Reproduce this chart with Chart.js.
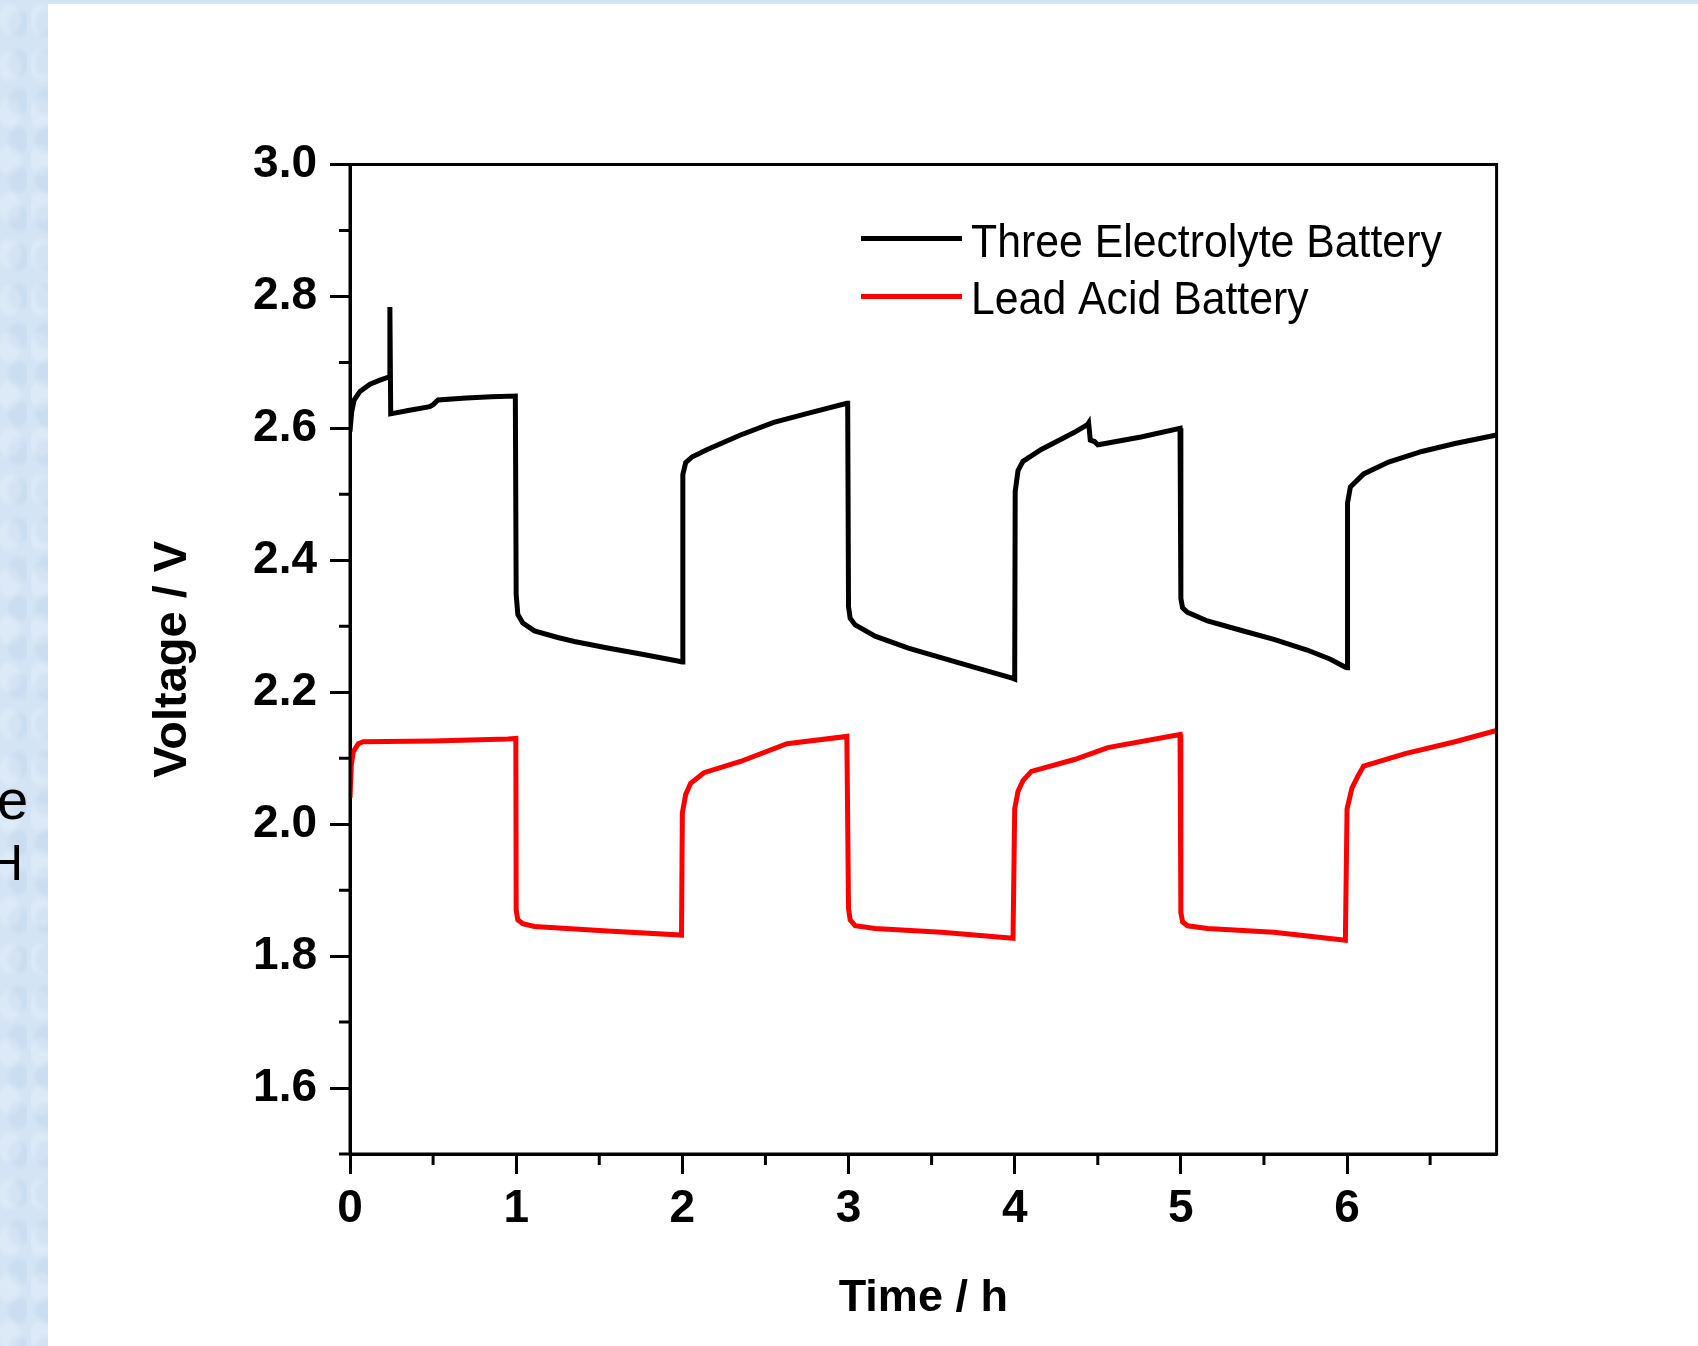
<!DOCTYPE html>
<html>
<head>
<meta charset="utf-8">
<title>Voltage vs Time</title>
<script src="https://cdn.jsdelivr.net/npm/chart.js@4.4.1/dist/chart.umd.min.js"></script>
<style>
  html, body { margin: 0; padding: 0; }
  body {
    width: 1698px; height: 1346px; position: relative; overflow: hidden;
    background: #fff; font-family: 'Liberation Sans', Arial, sans-serif;
  }
  #side {
    position: absolute; left: 0; top: 0; width: 48px; height: 1346px; overflow: hidden;
    background: #d4e4f4;
    background-image:
      radial-gradient(ellipse at 30% 40%, rgba(255,255,255,0.18) 0 9px, transparent 14px),
      radial-gradient(ellipse at 70% 60%, rgba(160,190,225,0.18) 0 8px, transparent 13px);
    background-size: 31px 47px, 27px 39px;
  }
  #topband { position: absolute; left: 0; top: 0; width: 1698px; height: 4px; background: #d4e4f4; }
  .cut { position: absolute; line-height: 1; color: #000; }
  #wrap { position: absolute; left: 48px; top: 4px; width: 1650px; height: 1342px; background: #fff; }
</style>
</head>
<body>
<div id="topband"></div>
<div id="side">
  <span class="cut" style="left:-3px; top:772px; font-size:56px;">e</span>
  <span class="cut" style="left:-13px; top:838px; font-size:50px;">H</span>
</div>
<div id="wrap"><canvas id="chart" width="1650" height="1342"></canvas></div>

<script>
//---------------------------------------------
// DATA
//---------------------------------------------
const seriesLabels = ["Three Electrolyte Battery", "Lead Acid Battery"];

const blackTime = [0.000, 0.010, 0.025, 0.06, 0.12, 0.18, 0.235, 0.240, 0.245, 0.35, 0.48, 0.50, 0.53, 0.70, 0.85, 0.995,
    1.000, 1.01, 1.04, 1.11, 1.25, 1.35, 1.55, 1.75, 1.98, 2.00,
    2.003, 2.02, 2.06, 2.15, 2.35, 2.55, 2.76, 2.99, 2.995,
    3.00, 3.01, 3.04, 3.16, 3.36, 3.66, 3.99, 4.00,
    4.003, 4.02, 4.05, 4.16, 4.36, 4.44, 4.445, 4.455, 4.48, 4.50, 4.52, 4.76, 4.995,
    5.00, 5.01, 5.04, 5.16, 5.36, 5.56, 5.76, 5.90, 5.99, 6.00,
    6.003, 6.02, 6.10, 6.25, 6.45, 6.65, 6.90];
const blackVolt = [2.595, 2.625, 2.643, 2.656, 2.667, 2.673, 2.678, 2.784, 2.622, 2.627, 2.633, 2.636, 2.643, 2.646, 2.648, 2.649,
    2.348, 2.318, 2.305, 2.293, 2.283, 2.277, 2.267, 2.258, 2.247, 2.246,
    2.530, 2.548, 2.557, 2.568, 2.590, 2.609, 2.623, 2.638, 2.638,
    2.330, 2.312, 2.302, 2.285, 2.267, 2.245, 2.221, 2.220,
    2.504, 2.536, 2.550, 2.568, 2.594, 2.606, 2.608, 2.582, 2.580, 2.575, 2.576, 2.587, 2.600,
    2.342, 2.328, 2.321, 2.308, 2.294, 2.280, 2.264, 2.250, 2.238, 2.237,
    2.487, 2.511, 2.531, 2.549, 2.565, 2.577, 2.590];

const redTime = [0.000, 0.008, 0.02, 0.05, 0.08, 0.50, 0.95, 0.998,
    1.000, 1.01, 1.04, 1.11, 1.55, 1.995,
    2.000, 2.02, 2.05, 2.13, 2.35, 2.63, 2.99,
    3.00, 3.01, 3.04, 3.16, 3.56, 3.99,
    4.00, 4.02, 4.05, 4.10, 4.36, 4.56, 4.995,
    5.00, 5.01, 5.04, 5.16, 5.56, 5.99,
    6.00, 6.03, 6.07, 6.10, 6.35, 6.65, 6.90];
const redVolt = [2.040, 2.090, 2.110, 2.122, 2.125, 2.126, 2.129, 2.130,
    1.870, 1.855, 1.849, 1.845, 1.838, 1.832,
    2.017, 2.045, 2.062, 2.078, 2.095, 2.122, 2.133,
    1.872, 1.855, 1.846, 1.842, 1.836, 1.827,
    2.023, 2.050, 2.066, 2.080, 2.098, 2.116, 2.136,
    1.866, 1.852, 1.846, 1.842, 1.836, 1.824,
    2.023, 2.055, 2.075, 2.088, 2.107, 2.125, 2.142];

const xMajorTicks = [0, 1, 2, 3, 4, 5, 6];
const xMinorTicks = [0.5, 1.5, 2.5, 3.5, 4.5, 5.5, 6.5];
const yMajorTicks = [1.6, 1.8, 2.0, 2.2, 2.4, 2.6, 2.8, 3.0];
const yMinorTicks = [1.5, 1.7, 1.9, 2.1, 2.3, 2.5, 2.7, 2.9];

const FONT = "'Liberation Sans', Arial, sans-serif";

//---------------------------------------------
// PLUGINS: frame + minor ticks, legend in plot
//---------------------------------------------
const frameTicks = {
    id: "frameTicks",
    afterDraw(chart) {
        const { ctx, chartArea: a, scales: { x, y } } = chart;
        ctx.save();
        ctx.strokeStyle = "#000";
        ctx.lineWidth = 3;
        ctx.strokeRect(a.left, a.top, a.right - a.left, a.bottom - a.top);
        ctx.beginPath();
        xMinorTicks.forEach(v => {
            const px = x.getPixelForValue(v);
            ctx.moveTo(px, a.bottom);
            ctx.lineTo(px, a.bottom + 11);
        });
        yMinorTicks.forEach(v => {
            const py = y.getPixelForValue(v);
            ctx.moveTo(a.left, py);
            ctx.lineTo(a.left - 11, py);
        });
        ctx.stroke();
        ctx.restore();
    }
};

const insideLegend = {
    id: "insideLegend",
    afterDraw(chart) {
        const ctx = chart.ctx;
        ctx.save();
        ctx.font = "46px " + FONT;
        ctx.textBaseline = "alphabetic";
        ctx.fillStyle = "#000";
        chart.data.datasets.forEach((ds, i) => {
            const ly = 234.5 + i * 58;
            ctx.strokeStyle = ds.borderColor;
            ctx.lineWidth = 5;
            ctx.beginPath();
            ctx.moveTo(813, ly);
            ctx.lineTo(914, ly);
            ctx.stroke();
            ctx.save();
            ctx.translate(923, 253 + i * 57);
            ctx.scale(0.93, 1);
            ctx.fillText(ds.label, 0, 0);
            ctx.restore();
        });
        ctx.restore();
    }
};

//---------------------------------------------
// CHART
//---------------------------------------------
function toPoints(ts, vs) {
    return ts.map((t, i) => ({ x: t, y: vs[i] }));
}

const tickFont = { family: FONT, size: 46, weight: "bold" };

new Chart(document.getElementById("chart"), {
    type: "line",
    data: {
        datasets: [
            { label: seriesLabels[0], data: toPoints(blackTime, blackVolt), borderColor: "#000000",
              borderWidth: 5, pointRadius: 0, tension: 0, fill: false },
            { label: seriesLabels[1], data: toPoints(redTime, redVolt), borderColor: "#ff0000",
              borderWidth: 5, pointRadius: 0, tension: 0, fill: false }
        ]
    },
    options: {
        responsive: false,
        animation: false,
        devicePixelRatio: 1,
        layout: { padding: { top: 160.5, right: 201.4, bottom: 0, left: 0 } },
        plugins: { legend: { display: false }, tooltip: { enabled: false } },
        scales: {
            x: {
                type: "linear", min: 0, max: 6.9,
                afterBuildTicks: s => { s.ticks = xMajorTicks.map(v => ({ value: v })); },
                afterFit: s => { s.height = 192; },
                ticks: { color: "#000", font: tickFont, padding: 8, maxRotation: 0,
                         callback: v => String(v) },
                grid: { drawOnChartArea: false, drawTicks: true, tickLength: 20, tickWidth: 3, tickColor: "#000" },
                border: { display: true, width: 3, color: "#000" },
                title: { display: true, text: "Time / h", color: "#000",
                         font: { family: FONT, size: 45, weight: "bold" }, padding: { top: 0, bottom: 20 } }
            },
            y: {
                type: "linear", min: 1.5, max: 3.0,
                afterBuildTicks: s => { s.ticks = yMajorTicks.map(v => ({ value: v })); },
                afterFit: s => { s.width = 302; },
                ticks: { color: "#000", font: tickFont, padding: 13,
                         callback: v => Number(v).toFixed(1) },
                grid: { drawOnChartArea: false, drawTicks: true, tickLength: 20, tickWidth: 3, tickColor: "#000" },
                border: { display: true, width: 3, color: "#000" },
                title: { display: true, text: "Voltage / V", color: "#000",
                         font: { family: FONT, size: 47, weight: "bold" }, padding: { top: 97, bottom: 0 } }
            }
        }
    },
    plugins: [frameTicks, insideLegend]
});
</script>
</body>
</html>
